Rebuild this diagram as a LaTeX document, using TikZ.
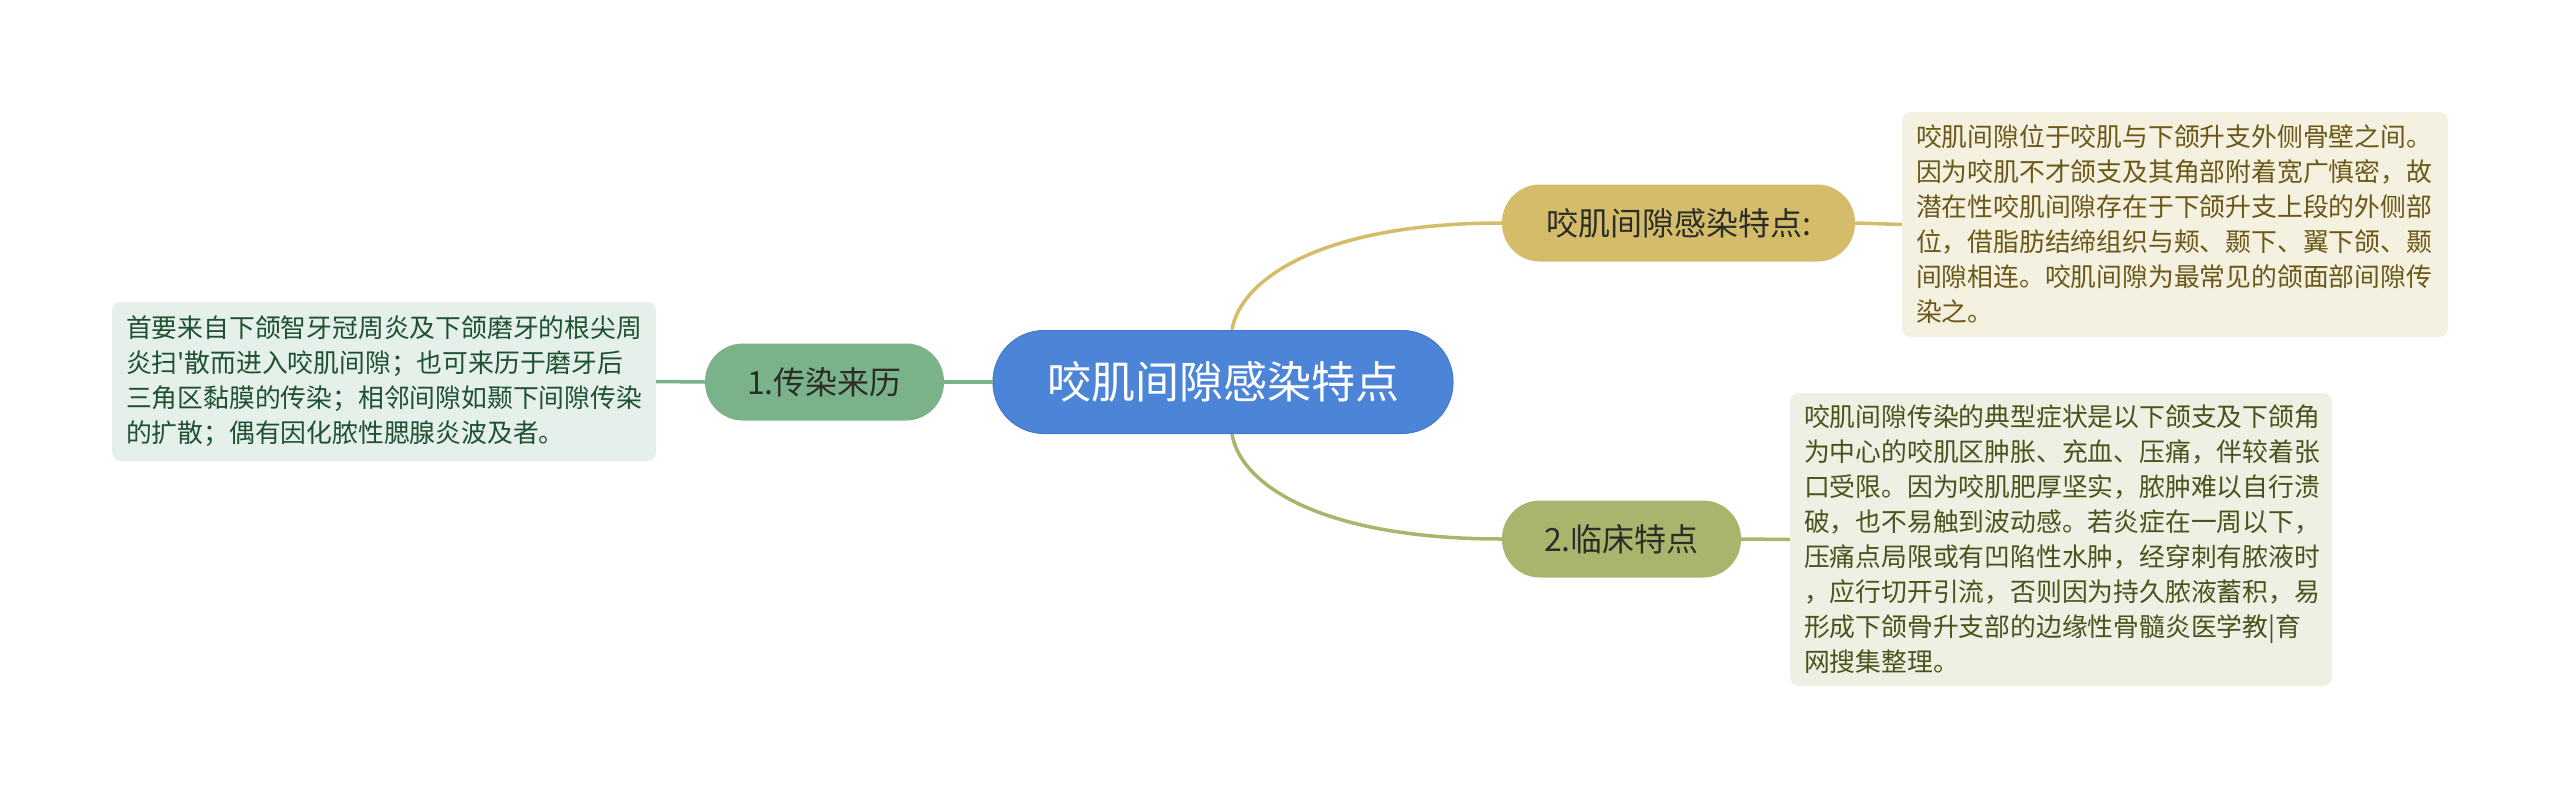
\documentclass[tikz,border=0pt]{standalone}
\usepackage{fontspec}
\setmainfont{Noto Sans CJK SC}
\usetikzlibrary{positioning}
\definecolor{cblue}{RGB}{76,132,216}
\definecolor{cblueb}{RGB}{66,120,200}
\definecolor{cgold}{RGB}{212,188,106}
\definecolor{cgreen}{RGB}{122,178,138}
\definecolor{colive}{RGB}{170,180,108}
\definecolor{fgold}{RGB}{245,241,225}
\definecolor{tgold}{RGB}{107,88,23}
\definecolor{folive}{RGB}{239,240,228}
\definecolor{tolive}{RGB}{72,84,28}
\definecolor{fgreen}{RGB}{230,240,234}
\definecolor{tgreen}{RGB}{30,80,50}
\definecolor{tdark}{RGB}{45,45,40}
\tikzset{
  root/.style={fill=cblue, draw=cblueb, line width=1pt, rounded corners=51pt, minimum width=460pt, minimum height=103pt, text=white, font=\fontsize{44}{50}\selectfont, inner sep=0pt},
  branch/.style={rounded corners=38pt, minimum height=77pt, text=tdark, font=\fontsize{32}{38}\selectfont, inner sep=0pt},
  leafbox/.style={rounded corners=9pt, align=left, inner xsep=14pt, inner ysep=0pt, font=\fontsize{25.8}{35}\selectfont},
  link/.style={line width=3.5pt}
}
\begin{document}
\begin{tikzpicture}[x=1pt,y=-1pt]
\useasboundingbox (0,0) rectangle (2560,798);
\fill[white] (0,0) rectangle (2560,798);
% nodes
\node[root] (c) at (1223,382) {咬肌间隙感染特点};
\node[branch, fill=cgold, minimum width=353pt] (a) at (1678.5,223) {咬肌间隙感染特点:};
\node[branch, fill=cgreen, minimum width=239pt] (l) at (824.5,382) {1.传染来历};
\node[branch, fill=colive, minimum width=239pt] (b) at (1621.5,539) {2.临床特点};
\node[leafbox, fill=fgold, text=tgold, text width=518pt, minimum height=225pt] (ta) at (2175,224.5) {咬肌间隙位于咬肌与下颌升支外侧骨壁之间。\\因为咬肌不才颌支及其角部附着宽广慎密，故\\潜在性咬肌间隙存在于下颌升支上段的外侧部\\位，借脂肪结缔组织与颊、颞下、翼下颌、颞\\间隙相连。咬肌间隙为最常见的颌面部间隙传\\染之。};
\node[leafbox, fill=folive, text=tolive, text width=514pt, minimum height=293pt] (tb) at (2061,539.5) {咬肌间隙传染的典型症状是以下颌支及下颌角\\为中心的咬肌区肿胀、充血、压痛，伴较着张\\口受限。因为咬肌肥厚坚实，脓肿难以自行溃\\破，也不易触到波动感。若炎症在一周以下，\\压痛点局限或有凹陷性水肿，经穿刺有脓液时\\，应行切开引流，否则因为持久脓液蓄积，易\\形成下颌骨升支部的边缘性骨髓炎医学教|育\\网搜集整理。};
\node[leafbox, fill=fgreen, text=tgreen, text width=516pt, minimum height=159pt] (tl) at (384,381.5) {首要来自下颌智牙冠周炎及下颌磨牙的根尖周\\炎扫\textquotesingle 散而进入咬肌间隙；也可来历于磨牙后\\三角区黏膜的传染；相邻间隙如颞下间隙传染\\的扩散；偶有因化脓性腮腺炎波及者。};
% connectors
\draw[link, draw=cgold] ([xshift=9pt]c.north) .. controls (1240,280) and (1320,223) .. (a.west);
\draw[link, draw=colive] ([xshift=9pt]c.south) .. controls (1240,484) and (1320,539) .. (b.west);
\draw[link, draw=cgreen] (c.west) -- (l.east);
\draw[link, draw=cgreen] (l.west) -- (tl.east);
\draw[link, draw=cgold] (a.east) -- (ta.west);
\draw[link, draw=colive] (b.east) -- (tb.west);
\end{tikzpicture}
\end{document}
